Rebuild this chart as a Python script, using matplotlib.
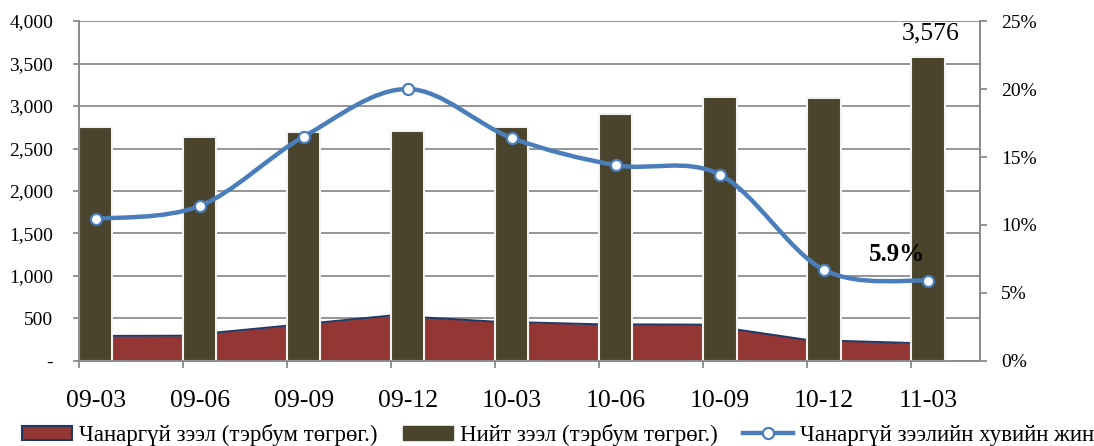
import numpy as np
import matplotlib
matplotlib.use("Agg")
import matplotlib.pyplot as plt
from matplotlib.path import Path
from matplotlib.patches import PathPatch, Patch
from matplotlib.lines import Line2D
from matplotlib.ticker import FuncFormatter

plt.rcParams['font.family'] = ['Liberation Serif', 'DejaVu Serif']

# data
periods = ['09-03', '09-06', '09-09', '09-12', '10-03', '10-06', '10-09', '10-12', '11-03']
npl = [294, 298, 415, 535, 463, 432, 428, 248, 212]            # non-performing loans, bn MNT
total = [2749, 2630, 2692, 2708, 2748, 2905, 3108, 3096, 3576]  # total loans, bn MNT
npl_share = [10.45, 11.4, 16.5, 20.0, 16.4, 14.4, 13.7, 6.7, 5.9]  # %

lbl_npl = 'Чанаргүй зээл (тэрбум төгрөг.)'
lbl_total = 'Нийт зээл (тэрбум төгрөг.)'
lbl_share = 'Чанаргүй зээлийн хувийн жин'

red = '#943634'
olive = '#4a442d'
blue = '#4a7ebb'
navy = '#1f3864'
gridc = '#8c8c8c'

fig = plt.figure(figsize=(10.94, 4.46), dpi=100)
ax = fig.add_axes([0.0722, 0.1906, 0.8236, 0.7623])

idx = np.arange(len(periods))
bx = idx + 0.16

# area (non-performing loans)
ax.fill_between(idx, 0, npl, color=red, zorder=2, linewidth=0)
ax.plot(idx, npl, color=navy, lw=1.4, zorder=2.1)
# bars (total loans)
ax.bar(bx, total, width=0.32, color=olive, edgecolor='#f2f2f2', linewidth=1.5, zorder=3)

ax.set_xlim(0, 8.66)
ax.set_ylim(0, 4000)
ax.set_yticks(np.arange(0, 4001, 500))
ax.yaxis.set_major_formatter(FuncFormatter(lambda v, p: '-' if v == 0 else '{:,.0f}'.format(v)))
ax.grid(axis='y', color=gridc, lw=1.3, zorder=0)
ax.set_axisbelow(True)

ax.set_xticks(idx)
ax.set_xticklabels([])
ax.set_xticks(bx, minor=True)
ax.set_xticklabels(periods, minor=True, fontsize=18.5)
ax.tick_params(axis='x', which='major', length=5, color=gridc, width=1.3)
ax.tick_params(axis='x', which='minor', length=0, pad=21)
ax.tick_params(axis='y', length=4.5, color=gridc, width=1.3, labelsize=14, pad=14)
for s in ['left', 'bottom', 'right']:
  ax.spines[s].set_color(gridc)
  ax.spines[s].set_linewidth(1.3)
ax.spines['top'].set_visible(False)

ax.text(bx[-1] + 0.03, 3720, '{:,}'.format(total[-1]), ha='center', va='bottom', fontsize=18.5)

# secondary axis: smoothed share line
ax2 = ax.twinx()
ax2.set_ylim(0, 25)
ax2.set_yticks(np.arange(0, 26, 5))
ax2.yaxis.set_major_formatter(FuncFormatter(lambda v, p: '{:.0f}%'.format(v)))
ax2.tick_params(axis='y', length=5, color=gridc, width=1.3, labelsize=14, pad=10)
for s in ['left', 'bottom', 'right']:
  ax2.spines[s].set_color(gridc)
  ax2.spines[s].set_linewidth(1.3)
ax2.spines['top'].set_visible(False)

pts = np.column_stack([bx, npl_share])
ext = np.vstack([pts[0], pts, pts[-1]])
verts = [tuple(pts[0])]
codes = [Path.MOVETO]
for i in range(len(pts) - 1):
  p0, p1, p2, p3 = ext[i], ext[i + 1], ext[i + 2], ext[i + 3]
  c1 = p1 + (p2 - p0) / 6.0
  c2 = p2 - (p3 - p1) / 6.0
  verts += [tuple(c1), tuple(c2), tuple(p2)]
  codes += [Path.CURVE4] * 3
ax2.add_patch(PathPatch(Path(verts, codes), facecolor='none', edgecolor=blue, lw=3.2, zorder=4))
ax2.plot(bx, npl_share, 'o', ms=8, mfc='white', mec=blue, mew=1.6, zorder=5)

ax2.text(bx[-1] - 0.3, 7.0, '{:.1f}%'.format(npl_share[-1]), ha='center', va='bottom',
         fontsize=18, fontweight='bold')

handles = [Patch(facecolor=red, edgecolor=navy, linewidth=1.5),
           Patch(facecolor=olive, edgecolor=olive),
           Line2D([], [], color=blue, lw=3.2, marker='o', ms=8, mfc='white', mec=blue, mew=1.6)]
fig.legend(handles, [lbl_npl, lbl_total, lbl_share], loc='center', ncol=3,
           bbox_to_anchor=(0.51, 0.025), frameon=False, fontsize=16.5, handlelength=2.2,
           handleheight=0.57, columnspacing=1.1, handletextpad=0.3, borderpad=0.1)

fig.savefig('out.png', dpi=100)
